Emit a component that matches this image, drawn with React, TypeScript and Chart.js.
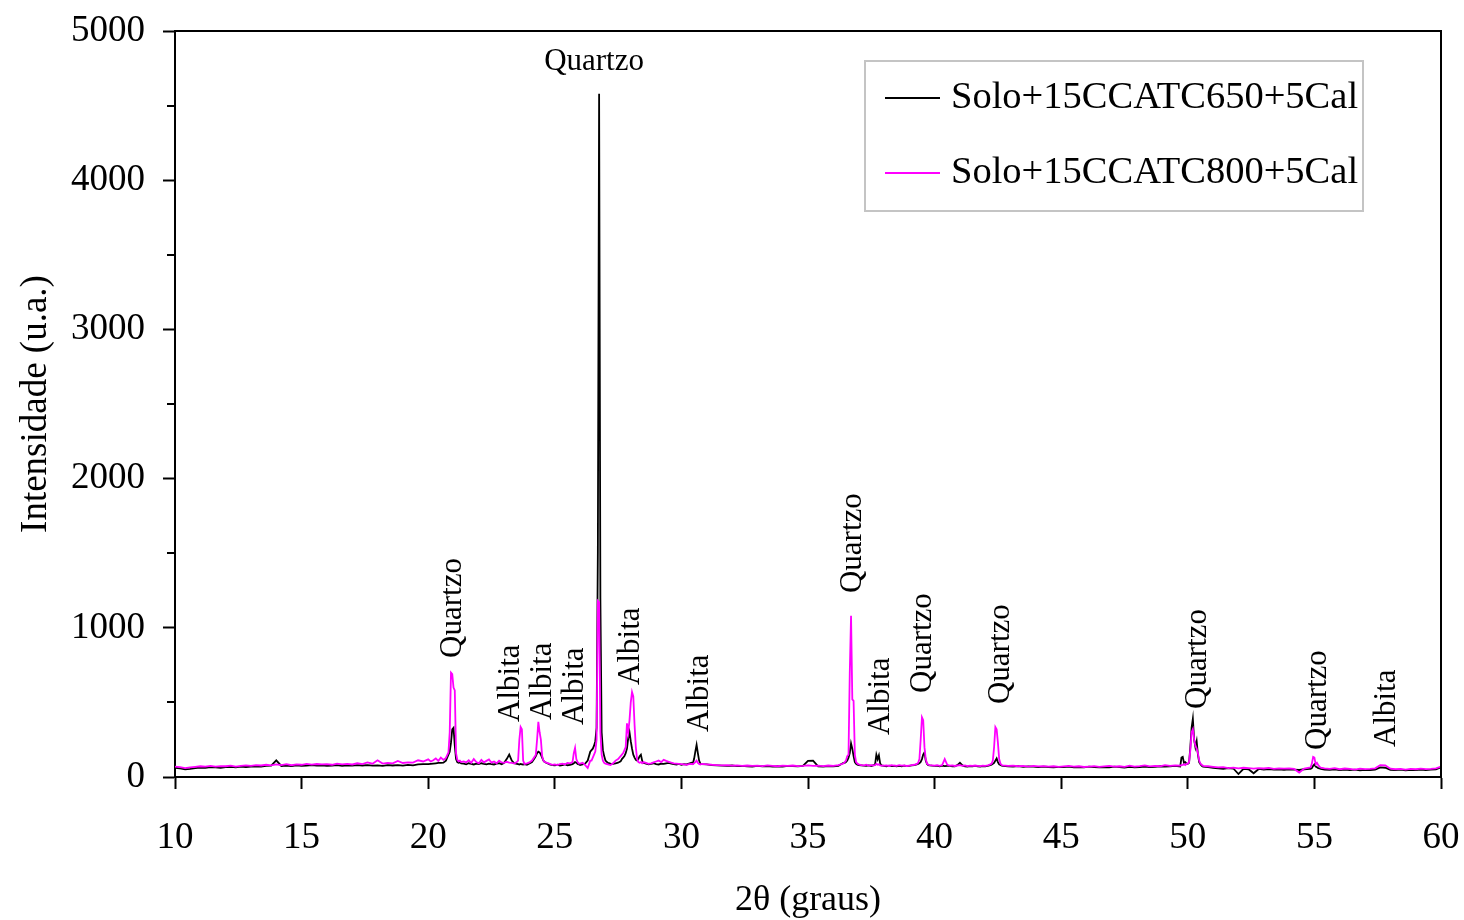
import React, { useEffect, useRef } from 'react';
import { Chart, registerables } from 'chart.js';

Chart.register(...registerables);

// 2θ positions (degrees), shared by both diffractograms
const twoTheta = [
  // 10.0 – 19.8
  10.0, 10.2, 10.4, 10.6, 10.8, 11.0, 11.2, 11.4, 11.6, 11.8,
  12.0, 12.2, 12.4, 12.6, 12.8, 13.0, 13.2, 13.4, 13.6, 13.8,
  14.0, 14.2, 14.4, 14.6, 14.8, 15.0, 15.2, 15.4, 15.6, 15.8,
  16.0, 16.2, 16.4, 16.6, 16.8, 17.0, 17.2, 17.4, 17.6, 17.8,
  18.0, 18.2, 18.4, 18.6, 18.8, 19.0, 19.2, 19.4, 19.6, 19.8,
  // 20.0 – 20.8
  20.0, 20.1, 20.2, 20.3, 20.4, 20.5, 20.6, 20.7, 20.8,
  // 20.85 – 21.3
  20.85, 20.9, 20.95, 21.0, 21.05, 21.1, 21.15, 21.2, 21.25, 21.3,
  // 21.4 – 23.5
  21.4, 21.5, 21.6, 21.7, 21.8, 21.9, 22.0, 22.1, 22.2, 22.3,
  22.4, 22.5, 22.6, 22.7, 22.8, 22.9, 23.0, 23.1, 23.2, 23.3, 23.4, 23.5,
  // 23.55 – 23.8
  23.55, 23.6, 23.65, 23.7, 23.75, 23.8,
  // 23.9 – 24.2
  23.9, 24.0, 24.1, 24.2,
  // 24.25 – 24.6
  24.25, 24.3, 24.35, 24.4, 24.45, 24.5, 24.55, 24.6,
  // 24.7 – 25.7
  24.7, 24.8, 24.9, 25.0, 25.1, 25.2, 25.3, 25.4, 25.5, 25.6, 25.7,
  // 25.75 – 25.95
  25.75, 25.8, 25.85, 25.9, 25.95,
  // 26.0 – 26.4
  26.0, 26.1, 26.2, 26.3, 26.4,
  // 26.45 – 26.95
  26.45, 26.5, 26.55, 26.6, 26.65, 26.7, 26.75, 26.8, 26.85, 26.9, 26.95,
  // 27.0 – 27.6
  27.0, 27.1, 27.2, 27.3, 27.4, 27.5, 27.6,
  // 27.65 – 28.45
  27.65, 27.7, 27.75, 27.8, 27.85, 27.9, 27.95, 28.0, 28.05, 28.1, 28.15, 28.2, 28.25, 28.3, 28.35, 28.4, 28.45,
  // 28.5 – 30.4
  28.5, 28.6, 28.7, 28.8, 28.9, 29.0, 29.1, 29.2, 29.3, 29.4,
  29.5, 29.6, 29.7, 29.8, 29.9, 30.0, 30.1, 30.2, 30.3, 30.4,
  // 30.45 – 30.75
  30.45, 30.5, 30.55, 30.6, 30.65, 30.7, 30.75,
  // 30.8 – 36.4
  30.8, 31.0, 31.2, 31.4, 31.6, 31.8, 32.0, 32.2, 32.4, 32.6,
  32.8, 33.0, 33.2, 33.4, 33.6, 33.8, 34.0, 34.2, 34.4, 34.6,
  34.8, 35.0, 35.2, 35.4, 35.6, 35.8, 36.0, 36.2, 36.4,
  // 36.45 – 36.95
  36.45, 36.5, 36.55, 36.6, 36.65, 36.7, 36.75, 36.8, 36.85, 36.9, 36.95,
  // 37.0 – 37.6
  37.0, 37.1, 37.2, 37.3, 37.4, 37.5, 37.6,
  // 37.65 – 37.9
  37.65, 37.7, 37.75, 37.8, 37.85, 37.9,
  // 38.0 – 39.3
  38.0, 38.1, 38.2, 38.3, 38.4, 38.5, 38.6, 38.7, 38.8, 38.9, 39.0, 39.1, 39.2, 39.3,
  // 39.35 – 39.75
  39.35, 39.4, 39.45, 39.5, 39.55, 39.6, 39.65, 39.7, 39.75,
  // 39.8 – 42.2
  39.8, 39.9, 40.0, 40.1, 40.2, 40.3, 40.4, 40.5, 40.6, 40.7,
  40.8, 40.9, 41.0, 41.1, 41.2, 41.3, 41.4, 41.5, 41.6, 41.7,
  41.8, 41.9, 42.0, 42.1, 42.2,
  // 42.25 – 42.65
  42.25, 42.3, 42.35, 42.4, 42.45, 42.5, 42.55, 42.6, 42.65,
  // 42.7 – 49.7
  42.7, 42.9, 43.1, 43.3, 43.5, 43.7, 43.9, 44.1, 44.3, 44.5,
  44.7, 44.9, 45.1, 45.3, 45.5, 45.7, 45.9, 46.1, 46.3, 46.5,
  46.7, 46.9, 47.1, 47.3, 47.5, 47.7, 47.9, 48.1, 48.3, 48.5,
  48.7, 48.9, 49.1, 49.3, 49.5, 49.7,
  // 49.75 – 50.55
  49.75, 49.8, 49.85, 49.9, 49.95, 50.0, 50.05, 50.1, 50.15, 50.2, 50.25, 50.3, 50.35, 50.4, 50.45, 50.5, 50.55,
  // 50.6 – 54.8
  50.6, 50.8, 51.0, 51.2, 51.4, 51.6, 51.8, 52.0, 52.2, 52.4, 52.6,
  52.8, 53.0, 53.2, 53.4, 53.6, 53.8, 54.0, 54.2, 54.4, 54.6, 54.8,
  // 54.85 – 55.25
  54.85, 54.9, 54.95, 55.0, 55.05, 55.1, 55.15, 55.2, 55.25,
  // 55.4 – 60.0
  55.4, 55.6, 55.8, 56.0, 56.2, 56.4, 56.6, 56.8, 57.0, 57.2, 57.4, 57.6,
  57.8, 58.0, 58.2, 58.4, 58.6, 58.8, 59.0, 59.2, 59.4, 59.6, 59.8, 60.0,
];

// Solo+15CCATC650+5Cal (black)
const intensity650 = [
  62, 58, 52, 55, 60, 63, 61, 66, 64, 62,
  66, 68, 65, 70, 67, 69, 72, 70, 74, 76,
  112, 74, 76, 73, 78, 75, 77, 80, 76, 78,
  74, 77, 79, 75, 78, 76, 80, 77, 79, 76,
  78, 75, 80, 77, 79, 76, 81, 78, 84, 86,
  86, 88, 90, 92, 94, 95, 96, 110, 150,
  170, 230, 320, 330, 210, 120, 100, 95, 98, 92,
  90, 85, 92, 88, 84, 90, 86, 92, 88, 85,
  90, 87, 84, 89, 92, 86, 95, 120, 150, 110, 92, 88,
  86, 84, 88, 85, 84, 86,
  82, 90, 100, 125,
  140, 160, 170, 165, 150, 130, 110, 100,
  92, 85, 80, 78, 82, 76, 80, 84, 78, 82, 86,
  92, 100, 96, 88, 85,
  80, 84, 90, 110, 170,
  180, 190, 210, 240, 330, 1500, 4580, 1200, 300, 180, 140,
  110, 95, 90, 88, 92, 96, 105,
  120, 130, 140, 160, 190, 260, 300, 240, 190, 150, 130, 115, 110, 120, 140, 150, 110,
  95, 90, 85, 88, 92, 86, 84, 90, 88, 92,
  95, 90, 86, 84, 88, 82, 86, 84, 90, 95,
  90, 120, 170, 215, 160, 110, 90,
  86, 84, 80, 78, 76, 74, 77, 73, 75, 72,
  70, 74, 71, 73, 69, 72, 70, 75, 73, 71,
  74, 108, 110, 72, 70, 73, 71, 75, 95,
  95, 100, 110, 130, 160, 225, 190, 140, 100, 88, 82,
  80, 78, 76, 75, 78, 74, 80,
  85, 150, 120, 145, 90, 78,
  74, 72, 76, 73, 75, 71, 74, 72, 76, 73, 75, 78, 80, 85,
  88, 92, 100, 120, 150, 165, 110, 88, 80,
  78, 76, 75, 74, 72, 76, 73, 75, 74, 71,
  72, 80, 95, 78, 72, 70, 73, 71, 74, 72,
  70, 73, 71, 75, 80,
  82, 88, 95, 110, 125, 100, 85, 80, 76,
  75, 72, 70, 73, 68, 71, 69, 66, 70, 67,
  65, 68, 66, 69, 64, 67, 65, 70, 66, 64,
  67, 65, 69, 66, 63, 68, 65, 67, 70, 66,
  68, 72, 69, 71, 74, 70,
  130, 135, 95, 100, 90, 88, 95, 200, 330, 390, 250, 200, 240, 150, 100, 85, 75,
  70, 66, 62, 58, 55, 60, 57, 20, 55, 52, 25,
  54, 50, 53, 49, 52, 48, 51, 50, 47, 52, 55,
  55, 60, 75, 85, 70, 65, 60, 58, 55,
  50, 48, 52, 47, 50, 46, 49, 45, 48, 47, 50, 65,
  62, 48, 46, 49, 45, 48, 46, 50, 47, 49, 52, 65,
];

// Solo+15CCATC800+5Cal (magenta)
const intensity800 = [
  70, 66, 60, 64, 68, 72, 69, 74, 70, 73,
  72, 76, 70, 75, 78, 74, 80, 77, 82, 78,
  84, 80, 86, 79, 85, 82, 88, 83, 87, 84,
  86, 82, 90, 85, 88, 84, 92, 87, 98, 89,
  112, 90, 95, 92, 108, 94, 98, 96, 112, 104,
  118, 104, 112, 125, 108, 130, 115, 128, 165,
  300, 700, 690, 600, 580, 160, 115, 105, 110, 100,
  105, 98, 112, 95, 120, 100, 92, 115, 98, 108,
  118, 96, 104, 92, 110, 98, 95, 102, 96, 94, 90, 100,
  110, 250, 335, 320, 110, 88,
  92, 98, 110, 135,
  150, 250, 370, 300, 250, 140, 110, 100,
  95, 88, 82, 85, 80, 86, 90, 84, 95, 92, 100,
  160, 195, 120, 100, 90,
  90, 95, 80, 60, 110,
  110, 130, 150, 170, 250, 1180, 1170, 300, 150, 110, 95,
  90, 85, 80, 92, 110, 120, 140,
  150, 160, 180, 200, 360, 300, 380, 500, 570, 540, 350, 200, 120, 100, 95, 100, 92,
  100, 95, 88, 92, 98, 104, 110, 100, 115, 108,
  102, 96, 92, 90, 88, 86, 84, 82, 86, 88,
  86, 92, 100, 110, 95, 88, 84,
  88, 85, 82, 80, 78, 80, 76, 78, 75, 77,
  74, 76, 73, 78, 75, 72, 76, 74, 77, 73,
  75, 78, 74, 76, 73, 77, 74, 80, 90,
  100, 110, 140, 150, 700, 1080, 520, 510, 150, 100, 90,
  85, 80, 78, 82, 76, 80, 78,
  80, 88, 82, 85, 78, 76,
  76, 78, 74, 80, 77, 75, 79, 76, 78, 74, 77, 80, 82, 88,
  95, 120, 250, 400, 380, 200, 120, 90, 82,
  80, 78, 76, 79, 75, 80, 120, 82, 76, 78,
  74, 77, 79, 75, 78, 73, 76, 74, 77, 75,
  73, 76, 74, 78, 85,
  90, 110, 200, 335, 320, 230, 120, 90, 80,
  78, 74, 76, 72, 75, 70, 74, 71, 73, 69,
  72, 68, 71, 74, 69, 72, 67, 70, 73, 68,
  71, 74, 69, 72, 68, 76, 70, 73, 78, 71,
  75, 72, 80, 74, 78, 76,
  80, 82, 85, 80, 88, 90, 100, 180, 300, 320, 250, 210, 190, 160, 110, 90, 82,
  75, 72, 68, 64, 66, 60, 63, 58, 62, 59, 56,
  60, 57, 61, 55, 58, 56, 57, 54, 30, 56, 62,
  65, 90, 135, 130, 85, 95, 80, 70, 62,
  58, 55, 60, 52, 57, 54, 50, 56, 53, 55, 58, 80,
  78, 56, 52, 55, 50, 54, 52, 56, 53, 55, 58, 70,
];

const seriesLabels = ['Solo+15CCATC650+5Cal', 'Solo+15CCATC800+5Cal'];
const seriesColors = ['#000000', '#FF00FF'];

// Phase annotations: text, 2θ position, intensity at the start of the text, rotated?
const phaseNames = ['Quartzo', 'Albita', 'Albita', 'Albita', 'Quartzo', 'Albita', 'Albita', 'Quartzo', 'Albita', 'Quartzo', 'Quartzo', 'Quartzo', 'Quartzo', 'Albita'];
const phaseTheta = [20.98, 23.27, 24.53, 25.80, 26.55, 28.01, 30.73, 36.78, 37.88, 39.54, 42.62, 50.38, 55.12, 57.87];
const phaseIntensity = [798, 369, 382, 349, 4739, 617, 302, 1233, 281, 563, 489, 456, 181, 201];
const phaseRotated = [true, true, true, true, false, true, true, true, true, true, true, true, true, true];

const xTitle = '2θ (graus)';
const yTitle = 'Intensidade (u.a.)';

const SERIF = "'Liberation Serif', 'Times New Roman', serif";

const decorPlugin = {
  id: 'decor',
  afterDraw(chart: any) {
    const { ctx, chartArea: a, scales } = chart;
    const xs = scales.x;
    const ys = scales.y;
    ctx.save();
    ctx.strokeStyle = '#000';
    ctx.lineWidth = 2;
    // top and right frame
    ctx.beginPath();
    ctx.moveTo(a.left, a.top);
    ctx.lineTo(a.right, a.top);
    ctx.lineTo(a.right, a.bottom);
    ctx.stroke();
    // minor y ticks
    ctx.beginPath();
    ys.ticks.forEach((t: any) => {
      if (t.value % 1000 !== 0) {
        const py = Math.round(ys.getPixelForValue(t.value));
        ctx.moveTo(a.left - 8, py);
        ctx.lineTo(a.left, py);
      }
    });
    ctx.stroke();

    // phase labels
    ctx.fillStyle = '#000';
    ctx.font = `31px ${SERIF}`;
    phaseNames.forEach((name, i) => {
      const px = xs.getPixelForValue(phaseTheta[i]);
      const py = ys.getPixelForValue(phaseIntensity[i]);
      if (phaseRotated[i]) {
        ctx.save();
        ctx.translate(px, py);
        ctx.rotate(-Math.PI / 2);
        ctx.textAlign = 'left';
        ctx.textBaseline = 'middle';
        ctx.fillText(name, 0, 0);
        ctx.restore();
      } else {
        ctx.textAlign = 'center';
        ctx.textBaseline = 'alphabetic';
        ctx.fillText(name, px, py);
      }
    });

    // axis titles
    ctx.font = `36px ${SERIF}`;
    ctx.textAlign = 'center';
    ctx.textBaseline = 'alphabetic';
    ctx.fillText(xTitle, (a.left + a.right) / 2, a.bottom + 133);
    ctx.save();
    ctx.font = `37px ${SERIF}`;
    ctx.translate(36, (a.top + a.bottom) / 2);
    ctx.rotate(-Math.PI / 2);
    ctx.textBaseline = 'middle';
    ctx.fillText(yTitle, 0, 0);
    ctx.restore();

    // legend
    const bx = a.right - 576;
    const by = a.top + 30;
    const bw = 498;
    const bh = 150;
    ctx.fillStyle = '#fff';
    ctx.fillRect(bx, by, bw, bh);
    ctx.strokeStyle = '#c4c4c4';
    ctx.lineWidth = 2;
    ctx.strokeRect(bx, by, bw, bh);
    ctx.font = `38.5px ${SERIF}`;
    ctx.textAlign = 'left';
    ctx.textBaseline = 'middle';
    chart.data.datasets.forEach((ds: any, i: number) => {
      const ly = by + 37 + i * 75;
      ctx.strokeStyle = ds.borderColor;
      ctx.lineWidth = 2;
      ctx.beginPath();
      ctx.moveTo(bx + 20, ly);
      ctx.lineTo(bx + 75, ly);
      ctx.stroke();
      ctx.fillStyle = '#000';
      ctx.fillText(ds.label, bx + 86, ly);
    });
    ctx.restore();
  },
};

export default function App() {
  const ref = useRef<HTMLCanvasElement>(null);
  useEffect(() => {
    if (!ref.current) return;
    const n = Math.min(twoTheta.length, intensity650.length, intensity800.length);
    const pts = (arr: number[]) => twoTheta.slice(0, n).map((x, i) => ({ x, y: arr[i] }));
    const tickFont = { family: SERIF, size: 37 };
    const chart = new Chart(ref.current, {
      type: 'line',
      data: {
        datasets: [
          { label: seriesLabels[0], data: pts(intensity650), borderColor: seriesColors[0], borderWidth: 1.8, pointRadius: 0, tension: 0, order: 2 },
          { label: seriesLabels[1], data: pts(intensity800), borderColor: seriesColors[1], borderWidth: 1.8, pointRadius: 0, tension: 0, order: 1 },
        ],
      },
      options: {
        animation: false,
        responsive: false,
        events: [],
        layout: { padding: { top: 31, right: 23, left: 0, bottom: 0 } },
        plugins: { legend: { display: false }, tooltip: { enabled: false } },
        scales: {
          x: {
            type: 'linear',
            min: 10,
            max: 60,
            ticks: { stepSize: 5, font: tickFont, color: '#000', padding: 27, maxRotation: 0, autoSkip: false },
            grid: { drawOnChartArea: false, drawTicks: true, tickLength: 12, tickWidth: 2, tickColor: '#000' },
            border: { display: true, color: '#000', width: 2 },
            afterFit: (s: any) => {
              s.height = 143;
              s.paddingLeft = 0;
              s.paddingRight = 0;
            },
          },
          y: {
            type: 'linear',
            min: 0,
            max: 5000,
            ticks: {
              stepSize: 500,
              font: tickFont,
              color: '#000',
              padding: 18,
              autoSkip: false,
              callback: (v: any) => (Number(v) % 1000 === 0 ? String(v) : ''),
            },
            grid: {
              drawOnChartArea: false,
              drawTicks: true,
              tickLength: 12,
              tickWidth: 2,
              tickColor: (c: any) => (c.tick && c.tick.value % 1000 === 0 ? '#000' : 'rgba(0,0,0,0)'),
            },
            border: { display: true, color: '#000', width: 2 },
            afterFit: (s: any) => {
              s.width = 175;
              s.paddingTop = 0;
              s.paddingBottom = 0;
            },
          },
        },
      },
      plugins: [decorPlugin],
    } as any);
    return () => chart.destroy();
  }, []);
  return (
    <div style={{ position: 'fixed', left: 0, top: 0, width: 1464, height: 920, background: '#fff' }}>
      <canvas ref={ref} width={1464} height={920} style={{ display: 'block' }} />
    </div>
  );
}
